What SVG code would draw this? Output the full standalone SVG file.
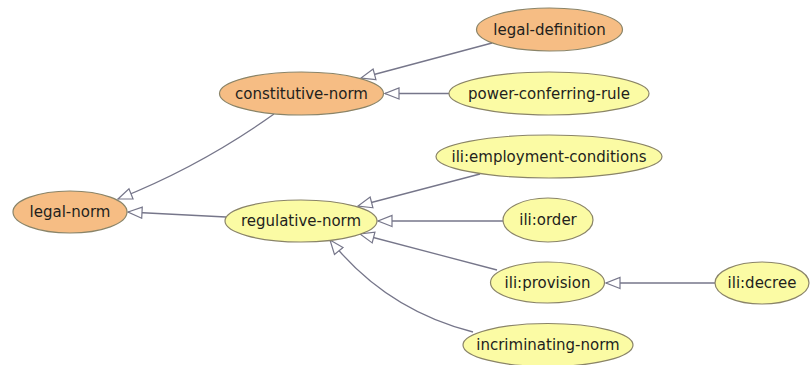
<svg xmlns="http://www.w3.org/2000/svg" width="810" height="365" viewBox="0 0 810 365">
<style>
.node ellipse{stroke:#8a8468;stroke-width:1.2}
.o ellipse{fill:#f6bd84}
.y ellipse{fill:#fbfba4}
.node text{font-family:"DejaVu Sans","Liberation Sans",sans-serif;font-size:15px;fill:#231f1c;text-anchor:middle}
#edges path{fill:none;stroke:#76768a;stroke-width:1.3;marker-end:url(#tri)}
</style>
<defs>
<marker id="tri" markerUnits="userSpaceOnUse" markerWidth="17" markerHeight="14" refX="15" refY="6.5" orient="auto">
<path d="M1,1 L15,6.5 L1,12 Z" fill="#ffffff" stroke="#76768a" stroke-width="1.2"/>
</marker>
</defs>
<rect width="810" height="365" fill="#ffffff"/>
<g id="edges">
<path d="M274,114 Q201,166 118,199"/>
<path d="M226,217 L128,212"/>
<path d="M492,43 L361,78"/>
<path d="M449,93.5 L385,93.5"/>
<path d="M480,174 L358,206"/>
<path d="M503,221 L378,221"/>
<path d="M497,270 L360,234"/>
<path d="M473,332 Q386,310 330,240"/>
<path d="M715,283 L606,283"/>
</g>
<g id="legal-norm" class="node o"><ellipse cx="70" cy="212" rx="57" ry="21"/><text x="70" y="217">legal-norm</text></g>
<g id="constitutive-norm" class="node o"><ellipse cx="301.5" cy="93.5" rx="82" ry="21.5"/><text x="301.5" y="98.5">constitutive-norm</text></g>
<g id="regulative-norm" class="node y"><ellipse cx="301" cy="221" rx="76" ry="21"/><text x="301" y="226">regulative-norm</text></g>
<g id="legal-definition" class="node o"><ellipse cx="549.5" cy="29.5" rx="73" ry="21.5"/><text x="549.5" y="34.5">legal-definition</text></g>
<g id="power-conferring-rule" class="node y"><ellipse cx="549" cy="93.5" rx="100" ry="21.5"/><text x="549" y="98.5">power-conferring-rule</text></g>
<g id="ili-employment-conditions" class="node y"><ellipse cx="549" cy="156.5" rx="113" ry="21.5"/><text x="549" y="161.5">ili:employment-conditions</text></g>
<g id="ili-order" class="node y"><ellipse cx="548" cy="220" rx="45" ry="22"/><text x="548" y="225">ili:order</text></g>
<g id="ili-provision" class="node y"><ellipse cx="547.5" cy="282.5" rx="57" ry="20.5"/><text x="547.5" y="287.5">ili:provision</text></g>
<g id="ili-decree" class="node y"><ellipse cx="762" cy="283" rx="47" ry="21"/><text x="762" y="288">ili:decree</text></g>
<g id="incriminating-norm" class="node y"><ellipse cx="548" cy="345" rx="85" ry="21.5"/><text x="548" y="350">incriminating-norm</text></g>
</svg>
